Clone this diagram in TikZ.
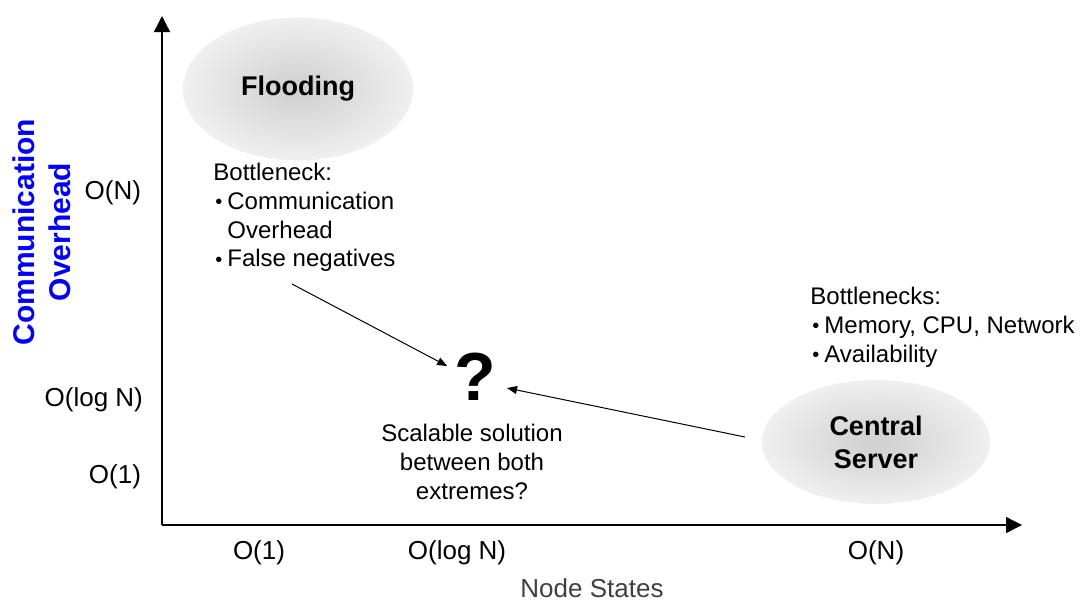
\documentclass[tikz,border=0pt]{standalone}
\usepackage{fontspec}
\setmainfont{Liberation Sans}
\usetikzlibrary{positioning}
\usetikzlibrary{arrows.meta, shapes.geometric}

\pgfdeclareradialshading{blob}{\pgfpoint{0bp}{0bp}}{color(0bp)=(black!18); color(4bp)=(black!17); color(25bp)=(black!6); color(50bp)=(black!6)}

\tikzset{
	axis/.style={line width=0.7pt, -{Triangle[length=8pt, width=8pt]}},
	pointer/.style={line width=0.5pt, -{Triangle[length=5pt, width=4pt]}},
	blobnode/.style={ellipse, inner sep=0pt, shading=blob,
		font=\fontsize{13.5}{16.5}\selectfont\bfseries, align=center},
	tick/.style={font=\fontsize{13}{14}\selectfont},
	note/.style={font=\fontsize{12}{14.3}\selectfont, inner sep=0pt},
}
\newcommand{\blt}{\makebox[7pt][l]{\hspace*{1pt}\raisebox{0.3pt}{\fontsize{10}{10}\selectfont\textbullet}}}

\begin{document}
\begin{tikzpicture}[x=0.5pt, y=-0.5pt]
	\useasboundingbox (0,0) rectangle (1090,602);
	
	% axes
	\coordinate (orig) at (162,525);
	\coordinate (ytop) at (162,16);
	\coordinate (xend) at (1022,525);
	\draw[axis] (orig) -- (ytop);
	\draw[axis] (orig) -- (xend);
	
	% axis labels
	\node[rotate=90, text=blue, align=center,
		font=\fontsize{15}{18}\selectfont\bfseries] (ylab) at (42,232) {Communication\\Overhead};
	\node[tick, text=black!75] (xlab) at (592,588) {Node States};
	
	% ticks
	\node[tick, anchor=east] (yN) at (148,193) {O(N)};
	\node[tick, anchor=east] (ylog) at (150,400) {O(log N)};
	\node[tick, anchor=east] (y1) at (148,477) {O(1)};
	\node[tick] (x1) at (259,553) {O(1)};
	\node[tick] (xlog) at (457,553) {O(log N)};
	\node[tick] (xN) at (876,553) {O(N)};
	
	% extremes
	\node[blobnode, minimum width=115pt, minimum height=71.5pt] (flood) at (298,89) {Flooding};
	\node[blobnode, minimum width=114pt, minimum height=62pt] (server) at (876,442) {Central\\Server};
	
	\node[note, anchor=north west, align=left] (floodnote) at (213,163)
		{Bottleneck:\\\blt Communication\\\hspace*{7pt}Overhead\\\blt False negatives};
	\node[note, anchor=north west, align=left] (servernote) at (810,287)
		{Bottlenecks:\\\blt Memory, CPU, Network\\\blt Availability};
	
	% question
	\node[font=\fontsize{34}{34}\selectfont\bfseries] (quest) at (475,377) {?};
	\node[note, align=center, anchor=north] (questnote) at (472,424)
		{Scalable solution\\between both\\extremes?};
	
	\coordinate (floodfrom) at (292,284);
	\coordinate (serverfrom) at (745,437);
	\draw[pointer] (floodfrom) -- (quest.west |- 0,366);
	\draw[pointer] (serverfrom) -- (507,388);
\end{tikzpicture}
\end{document}
